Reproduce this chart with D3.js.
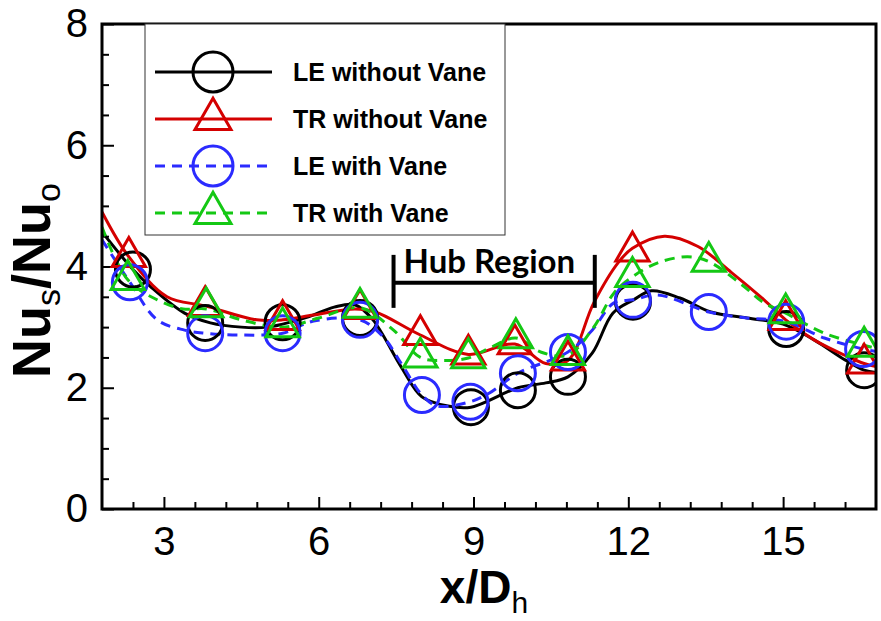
<!DOCTYPE html>
<html>
<head>
<meta charset="utf-8">
<script src="https://cdn.jsdelivr.net/npm/d3@7"></script>
<style>
  body { margin: 0; background: #fff; }
  svg { display: block; }
</style>
</head>
<body>
<div class="chart"></div>
<script>
// series names (legend order)
const seriesNames = ["LE without Vane", "TR without Vane", "LE with Vane", "TR with Vane"];

// curves (x/Dh, Nus/Nuo)
const leNoVaneLineX = [1.8, 2.4, 2.75, 3.4, 3.9, 4.5, 5.0, 5.3, 5.8, 6.3, 6.7, 7.05, 7.6, 8.0, 8.5, 8.95, 9.86, 10.4, 10.83, 11.3, 11.7, 12.1, 12.45, 13.0, 13.6, 14.3, 15.0, 15.6, 16.2, 16.57, 16.8];
const leNoVaneLineY = [4.57, 3.95, 3.66, 3.23, 3.07, 3.0, 3.0, 3.05, 3.17, 3.33, 3.37, 3.12, 2.34, 1.85, 1.7, 1.68, 2.0, 2.08, 2.18, 2.57, 3.23, 3.45, 3.6, 3.48, 3.25, 3.15, 3.05, 2.79, 2.46, 2.29, 2.25];
const trNoVaneLineX = [1.8, 2.32, 3.06, 3.8, 4.8, 5.3, 5.9, 6.7, 7.1, 7.97, 8.9, 9.8, 10.4, 10.83, 11.33, 11.8, 12.08, 12.7, 13.35, 14.0, 14.63, 15.05, 15.6, 16.26, 16.57, 16.8];
const trNoVaneLineY = [4.9, 4.16, 3.5, 3.35, 3.12, 3.12, 3.2, 3.3, 3.25, 2.87, 2.55, 2.72, 2.4, 2.45, 3.4, 4.06, 4.3, 4.5, 4.33, 3.9, 3.45, 3.12, 2.79, 2.51, 2.4, 2.35];
const leVaneLineX = [1.8, 2.34, 2.87, 3.4, 3.8, 4.5, 5.3, 5.9, 6.8, 7.25, 7.6, 8.0, 8.3, 8.94, 9.3, 9.86, 10.83, 11.3, 11.72, 12.09, 12.57, 13.56, 14.3, 15.06, 15.8, 16.55, 16.8];
const leVaneLineY = [4.44, 3.74, 3.12, 2.95, 2.9, 2.87, 2.9, 3.1, 3.12, 2.84, 2.4, 1.88, 1.7, 1.77, 1.91, 2.24, 2.59, 2.95, 3.4, 3.45, 3.53, 3.25, 3.15, 3.09, 2.82, 2.64, 2.6];
const trVaneLineX = [1.8, 2.3, 2.87, 3.37, 3.82, 4.5, 5.3, 6.0, 6.8, 7.45, 7.97, 8.4, 8.9, 9.3, 9.82, 10.3, 10.83, 11.33, 11.72, 12.08, 12.57, 13.15, 13.56, 14.2, 14.63, 15.05, 15.8, 16.57, 16.8];
const trVaneLineY = [4.65, 3.78, 3.45, 3.3, 3.3, 3.12, 3.0, 3.15, 3.32, 2.95, 2.5, 2.45, 2.49, 2.65, 2.82, 2.59, 2.54, 3.0, 3.56, 3.83, 4.06, 4.16, 4.08, 3.7, 3.4, 3.23, 2.9, 2.7, 2.65];

// measurement points (markers)
const leNoVaneX = [2.4, 3.8, 5.3, 6.8, 8.95, 9.86, 10.83, 12.09, 15.06, 16.57];
const leNoVaneY = [3.95, 3.07, 3.08, 3.15, 1.68, 1.96, 2.18, 3.42, 2.97, 2.29];
const trNoVaneX = [2.32, 3.8, 5.3, 6.8, 7.97, 8.9, 9.8, 10.83, 12.08, 15.05, 16.57];
const trNoVaneY = [4.16, 3.35, 3.12, 3.3, 2.87, 2.55, 2.72, 2.45, 4.25, 3.12, 2.4];
const leVaneX = [2.34, 3.8, 5.3, 6.8, 8.0, 8.94, 9.86, 10.83, 12.09, 13.56, 15.06, 16.55];
const leVaneY = [3.74, 2.9, 2.9, 3.12, 1.88, 1.77, 2.24, 2.59, 3.45, 3.25, 3.09, 2.64];
const trVaneX = [2.3, 3.82, 5.3, 6.8, 7.97, 8.9, 9.82, 10.83, 12.08, 13.56, 15.05, 16.57];
const trVaneY = [3.78, 3.33, 3.0, 3.32, 2.5, 2.49, 2.82, 2.54, 3.83, 4.08, 3.23, 2.68];

// ticks
const xMajorTicks = [3, 6, 9, 12, 15];
const xMinorTicks = [2.4, 3.6, 4.2, 4.8, 5.4, 6.6, 7.2, 7.8, 8.4, 9.6, 10.2, 10.8, 11.4, 12.6, 13.2, 13.8, 14.4, 15.6, 16.2];
const yMajorTicks = [0, 2, 4, 6, 8];
const yMinorTicks = [0.5, 1, 1.5, 2.5, 3, 3.5, 4.5, 5, 5.5, 6.5, 7, 7.5];

// hub region bracket
const hubStart = 7.45, hubEnd = 11.35, hubLevel = 3.73;

const series = [
  { name: seriesNames[0], lx: leNoVaneLineX, ly: leNoVaneLineY, mx: leNoVaneX, my: leNoVaneY, color: "#000000", dash: null, marker: "circle" },
  { name: seriesNames[1], lx: trNoVaneLineX, ly: trNoVaneLineY, mx: trNoVaneX, my: trNoVaneY, color: "#d40000", dash: null, marker: "triangle" },
  { name: seriesNames[2], lx: leVaneLineX, ly: leVaneLineY, mx: leVaneX, my: leVaneY, color: "#2b2bff", dash: "10,7", marker: "circle" },
  { name: seriesNames[3], lx: trVaneLineX, ly: trVaneLineY, mx: trVaneX, my: trVaneY, color: "#14c814", dash: "10,7", marker: "triangle" }
];

// margin convention
const margin = { top: 24, right: 5, bottom: 112, left: 102 };
const width = 881 - margin.left - margin.right,
  height = 621 - margin.top - margin.bottom;

const svg = d3
  .select(".chart")
  .append("svg")
  .attr("width", width + margin.left + margin.right)
  .attr("height", height + margin.top + margin.bottom)
  .append("g")
  .attr("transform", "translate(" + margin.left + "," + margin.top + ")");

const x = d3.scaleLinear().domain([1.8, 16.8]).range([0, width]);
const y = d3.scaleLinear().domain([0, 8]).range([height, 0]);

const font = "'Liberation Sans', Arial, sans-serif";

// axes (ticks point inwards)
const xAxis = d3.axisBottom(x).tickValues(xMajorTicks).tickSize(-12).tickPadding(18);
const xMinor = d3.axisBottom(x).tickValues(xMinorTicks).tickSize(-7).tickFormat("");
const yAxis = d3.axisLeft(y).tickValues(yMajorTicks).tickSize(-12).tickPadding(14);
const yMinor = d3.axisLeft(y).tickValues(yMinorTicks).tickSize(-7).tickFormat("");

function styleAxis(g) {
  g.select(".domain").remove();
  g.selectAll("line").attr("stroke", "#000").attr("stroke-width", 2);
  g.selectAll("text")
    .attr("fill", "#000")
    .style("font-family", font)
    .style("font-size", "40px");
}

svg.append("g").attr("class", "axis x-axis").attr("transform", `translate(0, ${height})`).call(xAxis).call(styleAxis);
svg.append("g").attr("class", "axis x-minor").attr("transform", `translate(0, ${height})`).call(xMinor).call(styleAxis);
svg.append("g").attr("class", "axis y-axis").call(yAxis).call(styleAxis);
svg.append("g").attr("class", "axis y-minor").call(yMinor).call(styleAxis);

// clip for curves
svg.append("clipPath").attr("id", "plot-clip")
  .append("rect").attr("width", width).attr("height", height);

const line = d3.line()
  .x(d => x(d[0]))
  .y(d => y(d[1]))
  .curve(d3.curveCatmullRom.alpha(0.5));

const plot = svg.append("g").attr("clip-path", "url(#plot-clip)");

series.forEach(s => {
  const pts = s.lx.map((v, i) => [v, s.ly[i]]);
  plot.append("path")
    .datum(pts)
    .attr("d", line)
    .attr("fill", "none")
    .attr("stroke", s.color)
    .attr("stroke-width", 3)
    .attr("stroke-dasharray", s.dash);
});

const triPath = (size) => d3.symbol(d3.symbolTriangle, size)();

function drawMarker(g, s, cx, cy, big) {
  if (s.marker === "circle") {
    g.append("circle")
      .attr("cx", cx).attr("cy", cy)
      .attr("r", big ? 20 : 17.5)
      .attr("fill", "none")
      .attr("stroke", s.color)
      .attr("stroke-width", 3);
  } else {
    g.append("path")
      .attr("d", triPath(big ? 560 : 480))
      .attr("transform", `translate(${cx},${cy})`)
      .attr("fill", "none")
      .attr("stroke", s.color)
      .attr("stroke-width", 3);
  }
}

series.forEach(s => {
  const g = plot.append("g").attr("class", "markers");
  s.mx.forEach((v, i) => drawMarker(g, s, x(v), y(s.my[i]), false));
});

// frame
svg.append("rect")
  .attr("width", width)
  .attr("height", height)
  .attr("fill", "none")
  .attr("stroke", "#000")
  .attr("stroke-width", 3);

// hub region bracket
const hub = svg.append("g").attr("stroke", "#000").attr("stroke-width", 4);
hub.append("line").attr("x1", x(hubStart)).attr("x2", x(hubEnd)).attr("y1", y(hubLevel)).attr("y2", y(hubLevel));
hub.append("line").attr("x1", x(hubStart)).attr("x2", x(hubStart)).attr("y1", y(hubLevel) - 28).attr("y2", y(hubLevel) + 25);
hub.append("line").attr("x1", x(hubEnd)).attr("x2", x(hubEnd)).attr("y1", y(hubLevel) - 28).attr("y2", y(hubLevel) + 25);
svg.append("text")
  .attr("x", x(hubStart) + 10)
  .attr("y", y(hubLevel) - 10)
  .style("font-family", "Lato, 'Open Sans', sans-serif")
  .style("font-weight", "bold")
  .style("font-size", "33px")
  .text("Hub Region");

// legend
const legend = svg.append("g").attr("transform", "translate(43, 0)");
legend.append("rect")
  .attr("width", 360)
  .attr("height", 211)
  .attr("fill", "#fff")
  .attr("stroke", "#333")
  .attr("stroke-width", 1);

series.forEach((s, i) => {
  const row = legend.append("g").attr("transform", `translate(0, ${48 + i * 47})`);
  row.append("line")
    .attr("x1", 10).attr("x2", 127)
    .attr("stroke", s.color)
    .attr("stroke-width", 3)
    .attr("stroke-dasharray", s.dash);
  drawMarker(row, s, 68, 0, true);
  row.append("text")
    .attr("x", 148)
    .attr("y", 9)
    .style("font-family", font)
    .style("font-weight", "bold")
    .style("font-size", "25px")
    .text(s.name);
});

// axis titles
const xt = svg.append("text")
  .attr("x", width / 2 - 5)
  .attr("y", height + 94)
  .attr("text-anchor", "middle")
  .style("font-family", font)
  .style("font-weight", "bold")
  .style("font-size", "46px");
xt.append("tspan").text("x/D");
xt.append("tspan").attr("dy", 10).style("font-size", "30px").style("font-weight", "normal").text("h");

const yt = svg.append("text")
  .attr("transform", `translate(-52, ${height / 2 + 14}) rotate(-90)`)
  .attr("text-anchor", "middle")
  .style("font-family", font)
  .style("font-weight", "bold")
  .style("font-size", "54px");
yt.append("tspan").text("Nu");
yt.append("tspan").attr("dy", 10).style("font-size", "34px").style("font-weight", "normal").text("s");
yt.append("tspan").attr("dy", -10).text("/Nu");
yt.append("tspan").attr("dy", 10).style("font-size", "34px").style("font-weight", "normal").text("o");
</script>
</body>
</html>
